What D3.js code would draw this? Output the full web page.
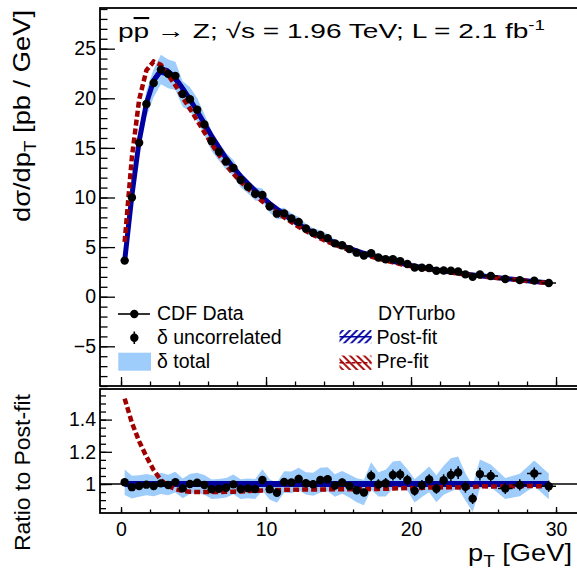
<!DOCTYPE html>
<html><head><meta charset="utf-8">
<script src="https://cdn.jsdelivr.net/npm/d3@7/dist/d3.min.js"></script>
<style>
body{margin:0;background:#fff}
svg{display:block}
text{font-family:"Liberation Sans",Arial,Helvetica,sans-serif;fill:#000}
</style>
</head><body>
<svg id="c" width="577" height="568"></svg>
<script>
// ---------------- data ----------------
const binEdges = [0,0.5,1,1.5,2,2.5,3,3.5,4,4.5,5,5.5,6,6.5,7,7.5,8,8.5,9,9.5,10,10.5,11,11.5,12,12.5,13,13.5,14,14.5,15,15.5,16,16.5,17,17.5,18,18.5,19,19.5,20,20.5,21,21.5,22,22.5,23,23.5,24,24.5,25,26,27,28,29,30];
const dataValues = [3.64,10.0,15.51,19.42,21.54,22.89,22.46,22.26,20.43,19.9,18.85,17.35,15.67,14.61,13.63,12.97,11.77,11.09,10.37,10.25,9.09,8.37,8.40,7.88,7.53,6.88,6.44,6.22,5.90,5.38,5.18,4.80,4.44,4.15,4.38,3.95,3.78,3.77,3.59,3.30,2.94,2.92,2.89,2.61,2.64,2.62,2.55,2.25,2.00,2.24,2.09,1.78,1.67,1.62,1.38];
const uncorrRelErr = [0.012,0.012,0.012,0.012,0.012,0.012,0.015,0.015,0.015,0.015,0.015,0.015,0.015,0.015,0.015,0.015,0.02,0.02,0.02,0.02,0.02,0.02,0.02,0.02,0.025,0.025,0.025,0.025,0.025,0.025,0.025,0.025,0.025,0.025,0.032,0.032,0.032,0.032,0.032,0.032,0.032,0.032,0.032,0.032,0.037,0.037,0.037,0.037,0.037,0.037,0.035,0.035,0.035,0.035,0.035];
const totalRelErr = [0.078,0.072,0.068,0.066,0.065,0.065,0.064,0.064,0.063,0.062,0.062,0.062,0.062,0.062,0.062,0.062,0.063,0.063,0.064,0.065,0.065,0.066,0.066,0.067,0.068,0.069,0.071,0.075,0.072,0.07,0.07,0.072,0.078,0.083,0.081,0.075,0.083,0.08,0.081,0.065,0.076,0.075,0.078,0.086,0.088,0.098,0.093,0.086,0.091,0.085,0.067,0.067,0.07,0.075,0.081];
const postFit = [3.6,10.2,15.7,19.5,21.8,22.8,22.6,22.0,21.0,19.9,18.7,17.45,16.2,15.05,13.95,13.0,12.15,11.4,10.7,10.0,9.4,8.85,8.3,7.8,7.3,6.85,6.45,6.07,5.73,5.43,5.13,4.86,4.62,4.38,4.17,3.96,3.76,3.57,3.39,3.22,3.07,2.94,2.81,2.69,2.58,2.48,2.38,2.29,2.20,2.11,1.99,1.83,1.68,1.52,1.40];
const preFit = [5.51,14.08,19.86,22.82,23.70,23.37,22.33,21.30,20.10,18.94,17.77,16.58,15.39,14.30,13.27,12.38,11.59,10.90,10.25,9.60,9.04,8.52,8.00,7.53,7.04,6.62,6.23,5.86,5.54,5.25,4.96,4.70,4.47,4.24,4.04,3.84,3.65,3.47,3.30,3.14,2.99,2.87,2.75,2.63,2.53,2.43,2.33,2.25,2.16,2.08,1.96,1.80,1.66,1.50,1.38];
const postFitRelErr = 0.019;
const topYMajor = [-5,0,5,10,15,20,25];
const topYLabels = ["\u22125","0","5","10","15","20","25"];
const ratioYMajor = [1,1.2,1.4];
const ratioYLabels = ["1","1.2","1.4"];
const xMajor = [0,10,20,30];
const xLabels = ["0","10","20","30"];

// ---------------- setup ----------------
const svg = d3.select('#c');
const L = 100, R = 578.5;
const x = d3.scaleLinear().domain([-1.45, 31.55]).range([L, R]);
const yTop = d3.scaleLinear().domain([-9, 29.1]).range([386, 8]);
const yRat = d3.scaleLinear().domain([0.82, 1.59]).range([513, 389]);
const LIGHT = '#9fcdfb', BLUE = '#0000a0', RED = '#a00000';
const FS = 19.5;

const bins = dataValues.map((v, i) => ({
  lo: binEdges[i], hi: binEdges[i+1], c: (binEdges[i] + binEdges[i+1]) / 2,
  v, unc: uncorrRelErr[i], tot: totalRelErr[i], post: postFit[i], pre: preFit[i],
  r: v / postFit[i], rPre: preFit[i] / postFit[i]
}));

const defs = svg.append('defs');
defs.append('clipPath').attr('id','clipTop').append('rect')
  .attr('x', L).attr('y', 8).attr('width', R - L).attr('height', 378);
defs.append('clipPath').attr('id','clipRat').append('rect')
  .attr('x', L).attr('y', 389).attr('width', R - L).attr('height', 124);
function hatch(id, color, angle) {
  const p = defs.append('pattern').attr('id', id).attr('patternUnits','userSpaceOnUse')
    .attr('width', 5).attr('height', 5).attr('patternTransform', `rotate(${angle})`);
  p.append('line').attr('x1', 1).attr('y1', 0).attr('x2', 1).attr('y2', 5)
    .attr('stroke', color).attr('stroke-width', 1.8);
}
hatch('hBlue', BLUE, 45);
hatch('hRed', RED, -45);

// ---------------- top panel ----------------
const gTop = svg.append('g').attr('clip-path','url(#clipTop)');
gTop.append('path').datum(bins)
  .attr('d', d3.area().x(d => x(d.c)).y0(d => yTop(d.v * (1 - d.tot))).y1(d => yTop(d.v * (1 + d.tot))))
  .attr('fill', LIGHT);
gTop.append('path').datum(bins)
  .attr('d', d3.area().x(d => x(d.c)).y0(d => yTop(d.post * (1 - postFitRelErr))).y1(d => yTop(d.post * (1 + postFitRelErr))))
  .attr('fill', BLUE);
gTop.append('path').datum(bins)
  .attr('d', d3.line().x(d => x(d.c)).y(d => yTop(d.post)))
  .attr('fill','none').attr('stroke', BLUE).attr('stroke-width', 5);
gTop.append('path').datum(bins)
  .attr('d', d3.line().x(d => x(d.c)).y(d => yTop(d.pre)))
  .attr('fill','none').attr('stroke', RED).attr('stroke-width', 4.5).attr('stroke-dasharray','6,3');
const pts = gTop.append('g');
pts.selectAll('line.v').data(bins).join('line').attr('class','v')
  .attr('x1', d => x(d.c)).attr('x2', d => x(d.c))
  .attr('y1', d => yTop(d.v * (1 - d.unc))).attr('y2', d => yTop(d.v * (1 + d.unc)))
  .attr('stroke','#000').attr('stroke-width',1.5);
pts.selectAll('line.h').data(bins).join('line').attr('class','h')
  .attr('x1', d => x(d.lo)).attr('x2', d => x(d.hi))
  .attr('y1', d => yTop(d.v)).attr('y2', d => yTop(d.v))
  .attr('stroke','#000').attr('stroke-width',1.5);
pts.selectAll('circle').data(bins).join('circle')
  .attr('cx', d => x(d.c)).attr('cy', d => yTop(d.v)).attr('r', 4.2).attr('fill','#000');

// axes top
function styleAxis(g){ g.select('.domain').remove(); g.selectAll('line').attr('stroke','#000').attr('stroke-width',1.3);
  g.selectAll('text').attr('font-size', FS).attr('font-family','"Liberation Sans",Arial,sans-serif'); }
svg.append('g').attr('transform',`translate(${L},0)`)
  .call(d3.axisLeft(yTop).tickValues(d3.range(-9, 30, 1)).tickSize(-7.5).tickFormat(''))
  .call(styleAxis);
svg.append('g').attr('transform',`translate(${L},0)`)
  .call(d3.axisLeft(yTop).tickValues(topYMajor).tickSize(-15).tickPadding(4).tickFormat((d,i) => topYLabels[i]))
  .call(styleAxis);
svg.append('g').attr('transform','translate(0,386)')
  .call(d3.axisBottom(x).tickValues(d3.range(0, 32, 2)).tickSize(-4.5).tickFormat(''))
  .call(styleAxis);
svg.append('g').attr('transform','translate(0,386)')
  .call(d3.axisBottom(x).tickValues(xMajor).tickSize(-9).tickFormat(''))
  .call(styleAxis);
svg.append('rect').attr('x', L).attr('y', 8).attr('width', R - L + 5).attr('height', 378)
  .attr('fill','none').attr('stroke','#000').attr('stroke-width',1.8);

// header
const hdr = svg.append('text').attr('x', 118).attr('y', 38).attr('font-size', 21)
  .attr('textLength', 427).attr('lengthAdjust', 'spacingAndGlyphs');
hdr.append('tspan').text('p');
hdr.append('tspan').style('text-decoration','overline').text('p');
hdr.append('tspan').text(' \u2192 Z; \u221As = 1.96 TeV; L = 2.1 fb');
hdr.append('tspan').attr('dy', -8.5).attr('font-size', 14).text('-1');

// legend
const lg = svg.append('g');
lg.append('line').attr('x1',118).attr('x2',150).attr('y1',314).attr('y2',314).attr('stroke','#000').attr('stroke-width',1.6);
lg.append('circle').attr('cx',134.3).attr('cy',314).attr('r',4.2);
lg.append('line').attr('x1',134.3).attr('x2',134.3).attr('y1',331.5).attr('y2',344).attr('stroke','#000').attr('stroke-width',1.6);
lg.append('circle').attr('cx',134.3).attr('cy',337.7).attr('r',4.2);
lg.append('rect').attr('x',118.3).attr('y',352.7).attr('width',32.7).attr('height',18).attr('fill',LIGHT);
lg.append('rect').attr('x',339.5).attr('y',330).attr('width',32).attr('height',13.3).attr('fill','url(#hBlue)');
lg.append('line').attr('x1',339.5).attr('x2',371.5).attr('y1',336.7).attr('y2',336.7).attr('stroke',BLUE).attr('stroke-width',1.5);
lg.append('rect').attr('x',339.5).attr('y',355.5).attr('width',32).attr('height',14.5).attr('fill','url(#hRed)');
lg.append('line').attr('x1',339.5).attr('x2',371.5).attr('y1',362.7).attr('y2',362.7).attr('stroke',RED).attr('stroke-width',1.5).attr('stroke-dasharray','4,2');
const legTexts = [[157,320,'CDF Data'],[157,343.5,'\u03B4 uncorrelated'],[157,367.5,'\u03B4 total'],[378,320,'DYTurbo'],[376.5,343.5,'Post-fit'],[376.5,367.5,'Pre-fit']];
legTexts.forEach(t => lg.append('text').attr('x',t[0]).attr('y',t[1]).attr('font-size',FS).text(t[2]));

// y title top
const yt = svg.append('text').attr('transform','translate(30,222) rotate(-90)').attr('font-size',24)
  .attr('textLength', 212).attr('lengthAdjust','spacingAndGlyphs');
yt.append('tspan').text('d\u03C3/dp');
yt.append('tspan').attr('dy',6).attr('font-size',16.5).text('T');
yt.append('tspan').attr('dy',-6).text(' [pb / GeV]');

// ---------------- ratio panel ----------------
const gR = svg.append('g').attr('clip-path','url(#clipRat)');
gR.append('line').attr('x1',L).attr('x2',R).attr('y1',yRat(1)).attr('y2',yRat(1)).attr('stroke','#000').attr('stroke-width',1.5);
gR.append('path').datum(bins)
  .attr('d', d3.area().x(d => x(d.c)).y0(d => yRat(d.r * (1 - d.tot))).y1(d => yRat(d.r * (1 + d.tot))))
  .attr('fill', LIGHT);
gR.append('path').datum(bins)
  .attr('d', d3.area().x(d => x(d.c)).y0(d => yRat(1 - postFitRelErr)).y1(d => yRat(1 + postFitRelErr)))
  .attr('fill', BLUE);
gR.append('path').datum(bins)
  .attr('d', d3.line().x(d => x(d.c)).y(d => yRat(d.rPre)))
  .attr('fill','none').attr('stroke', RED).attr('stroke-width', 4.5).attr('stroke-dasharray','6,3');
const rp = gR.append('g');
rp.selectAll('line.v').data(bins).join('line').attr('class','v')
  .attr('x1', d => x(d.c)).attr('x2', d => x(d.c))
  .attr('y1', d => yRat(d.r * (1 - d.unc))).attr('y2', d => yRat(d.r * (1 + d.unc)))
  .attr('stroke','#000').attr('stroke-width',1.5);
rp.selectAll('line.h').data(bins).join('line').attr('class','h')
  .attr('x1', d => x(d.lo)).attr('x2', d => x(d.hi))
  .attr('y1', d => yRat(d.r)).attr('y2', d => yRat(d.r))
  .attr('stroke','#000').attr('stroke-width',1.5);
rp.selectAll('circle').data(bins).join('circle')
  .attr('cx', d => x(d.c)).attr('cy', d => yRat(d.r)).attr('r', 4.2).attr('fill','#000');

svg.append('g').attr('transform',`translate(${L},0)`)
  .call(d3.axisLeft(yRat).tickValues(d3.range(0.85, 1.56, 0.05)).tickSize(-6).tickFormat(''))
  .call(styleAxis);
svg.append('g').attr('transform',`translate(${L},0)`)
  .call(d3.axisLeft(yRat).tickValues(ratioYMajor).tickSize(-12).tickPadding(4).tickFormat((d,i) => ratioYLabels[i]))
  .call(styleAxis);
svg.append('g').attr('transform','translate(0,513)')
  .call(d3.axisBottom(x).tickValues(d3.range(0, 32, 2)).tickSize(-3.5).tickFormat(''))
  .call(styleAxis);
svg.append('g').attr('transform','translate(0,513)')
  .call(d3.axisBottom(x).tickValues(xMajor).tickSize(-6).tickPadding(9.5).tickFormat((d,i) => xLabels[i]))
  .call(styleAxis);
svg.append('rect').attr('x', L).attr('y', 389).attr('width', R - L + 5).attr('height', 124)
  .attr('fill','none').attr('stroke','#000').attr('stroke-width',1.8);

svg.append('text').attr('transform','translate(30,551) rotate(-90)').attr('font-size',22.5)
  .attr('textLength', 157).attr('lengthAdjust','spacingAndGlyphs').text('Ratio to Post-fit');

const xt = svg.append('text').attr('x', 468).attr('y', 561).attr('font-size',23)
  .attr('textLength', 104).attr('lengthAdjust','spacingAndGlyphs');
xt.append('tspan').text('p');
xt.append('tspan').attr('dy',5.5).attr('font-size',16).text('T');
xt.append('tspan').attr('dy',-5.5).text(' [GeV]');
</script>
</body></html>
